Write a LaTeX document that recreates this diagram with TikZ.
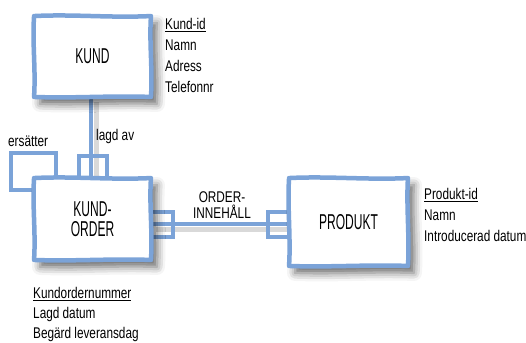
\documentclass[tikz,border=0pt]{standalone}
\usepackage{fontspec}
\setmainfont{Liberation Sans}[FakeStretch=0.76]
\newfontfamily\entityfont{Liberation Sans}[FakeStretch=0.56]
\usetikzlibrary{shadows.blur}
\pgfdeclarelayer{bg}
\pgfdeclarelayer{frame}
\pgfsetlayers{bg,frame,main}
\definecolor{erblue}{RGB}{123,163,216}
% slightly hand-drawn frame around an entity node
\newcommand\erframe[1]{%
  \begin{pgfonlayer}{frame}
  \path[entityframe] (#1.north west)
    .. controls +(40,-2) and +(-40,2) .. (#1.north east)
    .. controls +(-1.8,28) and +(1.8,-28) .. (#1.south east)
    .. controls +(-40,-1.5) and +(40,1.5) .. (#1.south west)
    .. controls +(1.8,-28) and +(-1.8,28) .. (#1.north west) -- cycle;
  \end{pgfonlayer}}
\begin{document}
\begin{tikzpicture}[x=1pt,y=-1pt,
  entity/.style={inner sep=0pt, align=center, font=\entityfont\fontsize{21.5}{20}\selectfont},
  entityframe/.style={draw=erblue, line width=4.5pt, fill=white, line join=round,
     blur shadow={shadow xshift=6pt, shadow yshift=-7pt, shadow blur radius=8pt, shadow opacity=60}},
  attr/.style={anchor=north west, align=left, inner sep=0pt, font=\fontsize{15.5}{21}\selectfont},
  rel/.style={draw=erblue, line width=4pt},
  relshade/.style={draw=black!15, line width=5pt, transform canvas={xshift=5pt,yshift=-5pt}},
  marker/.style={draw=erblue, line width=4pt, line join=miter},
  lbl/.style={inner sep=0pt, font=\fontsize{15.5}{16}\selectfont}]

\useasboundingbox (0,0) rectangle (526,342);

% entities
\node[entity, minimum width=116.5pt, minimum height=80.5pt] (k) at (92.5,56.5) {KUND};
\node[entity, minimum width=116.5pt, minimum height=81.5pt] (ko) at (92.5,219) {KUND-\\ORDER};
\node[entity, minimum width=118.5pt, minimum height=87.5pt] (p) at (348.5,222) {PRODUKT};
\erframe{k}
\erframe{ko}
\erframe{p}

% attribute lists
\node[attr] (ka) at (165,18) {\underline{Kund-id}\\Namn\\Adress\\Telefonnr};
\node[attr, font=\fontsize{15.5}{20}\selectfont] (koa) at (33,287) {\underline{Kundordernummer}\\Lagd datum\\Begärd leveransdag};
\node[attr] (pa) at (424,188) {\underline{Produkt-id}\\Namn\\Introducerad datum};

% relationship labels
\node[lbl, anchor=base west] (lagd) at (96,140) {lagd av};
\node[lbl, anchor=base west] (ers) at (8,146) {ersätter};
\node[lbl, anchor=south, align=center] (oi) at (222,218.5) {ORDER-\\INNEHÅLL};

% relationships, behind the entities
\begin{pgfonlayer}{bg}
  % KUND -- KUND-ORDER
  \draw[relshade] ([xshift=-1.5pt]k.south) -- ([xshift=-1.5pt]ko.north);
  \draw[rel] ([xshift=-1.5pt]k.south) -- ([xshift=-1.5pt]ko.north);
  \draw[marker] ([xshift=-14pt]ko.north) -- ++(0,-22) -- ++(28,0) -- ++(0,22);
  % KUND-ORDER replaces KUND-ORDER
  \draw[marker] ([yshift=-12pt]ko.north west) -- ++(-23.5,0) -- ++(0,-37.5) -- ++(45,0) -- ++(0,25.5);
  % KUND-ORDER -- PRODUKT
  \draw[relshade] ([yshift=-5pt]ko.east) -- ([yshift=-2pt]p.west);
  \draw[rel] ([yshift=-5pt]ko.east) -- ([yshift=-2pt]p.west);
  \draw[marker] ([yshift=7.5pt]ko.east) -- ++(22,0) -- ++(0,25) -- ++(-22,0);
  \draw[marker] ([yshift=10.5pt]p.west) -- ++(-21,0) -- ++(0,25) -- ++(21,0);
\end{pgfonlayer}
\end{tikzpicture}
\end{document}
